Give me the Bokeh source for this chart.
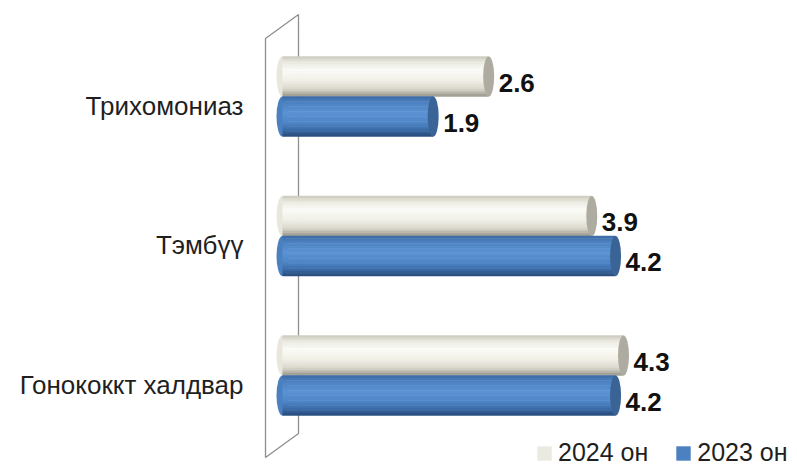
import numpy as np
from bokeh.plotting import figure
from bokeh.models import ColumnDataSource, Range1d, Legend, LegendItem
from bokeh.core.properties import value
from bokeh.embed import file_html
from bokeh.resources import INLINE

# ---- data ----
categories = ["Трихомониаз", "Тэмбүү", "Гонококкт халдвар"]
series_names = ["2024 он", "2023 он"]
values_2024 = [2.6, 3.9, 4.3]
values_2023 = [1.9, 4.2, 4.2]

# ---- layout helpers (canvas pixels) ----
W, H = 797, 465
X0_PX = 282.0      # x pixel of value 0
X_SCALE = 79.3     # pixels per unit
Y0_PX = 96.0       # y pixel of first category centre
Y_STEP = 139.5     # pixels between categories


def dx(px):
    return (px - X0_PX) / X_SCALE


def dy(py):
    return (py - Y0_PX) / Y_STEP


p = figure(width=W, height=H, output_backend="svg", toolbar_location=None, tools="",
           x_range=Range1d(dx(0), dx(W)), y_range=Range1d(dy(H), dy(0)),
           min_border=0, x_axis_location=None, y_axis_location=None,
           outline_line_color=None, background_fill_color="white",
           border_fill_color="white")
p.grid.visible = False

# ---- 3D back wall ----
p.patch(x=[dx(265), dx(298), dx(298), dx(265)],
        y=[dy(38), dy(14), dy(433), dy(457)],
        fill_color="white", line_color="#8f8f8f", line_width=1.3)

BH = 40.0 / Y_STEP
N = 16


def hex2rgb(h):
    h = h.lstrip("#")
    return [int(h[i:i + 2], 16) for i in (0, 2, 4)]


def grad(stops, t):
    for (t0, c0), (t1, c1) in zip(stops[:-1], stops[1:]):
        if t0 <= t <= t1:
            f = (t - t0) / (t1 - t0) if t1 > t0 else 0
            a, b = hex2rgb(c0), hex2rgb(c1)
            return "#%02x%02x%02x" % tuple(int(round(a[i] + (b[i] - a[i]) * f)) for i in range(3))
    return stops[-1][1]


styles = [
    dict(vals=values_2024, off=-BH / 2,
         stops=[(0, "#cac8bc"), (0.15, "#eae9e0"), (0.35, "#fbfbf7"), (0.6, "#f1f0e7"),
                (0.82, "#dad8cc"), (1.0, "#98958a")],
         left="#e9e7dd", cap="#aeaca1"),
    dict(vals=values_2023, off=BH / 2,
         stops=[(0, "#3d69a2"), (0.15, "#4c81c1"), (0.4, "#5a92d3"), (0.65, "#4f87c8"),
                (0.85, "#3a6aa6"), (1.0, "#264a78")],
         left="#4b80c0", cap="#3a6396"),
]

legend_items = []
for name, st in zip(series_names, styles):
    centers = [i + st["off"] for i in range(len(categories))]
    # left rounded ends
    p.ellipse(x=[0] * len(centers), y=centers, width=12, width_units="screen",
              height=BH, fill_color=st["left"], line_color=None)
    ys, rights, cols = [], [], []
    for c, v in zip(centers, st["vals"]):
        for k in range(N):
            ys.append(c - BH / 2 + (k + 0.5) * BH / N)
            rights.append(v)
            cols.append(grad(st["stops"], (k + 0.5) / N))
    src = ColumnDataSource(dict(y=ys, right=rights, color=cols))
    r = p.hbar(y="y", left=0, right="right", height=BH / N * 1.2, fill_color="color",
               line_color=None, source=src)
    # right end caps
    p.ellipse(x=st["vals"], y=centers, width=11, width_units="screen", height=BH,
              fill_color=st["cap"], line_color=None)
    # value labels
    p.text(x=st["vals"], y=centers, text=["%.1f" % v for v in st["vals"]],
           x_offset=10, y_offset=6, text_font=value("Liberation Sans"),
           text_font_style="bold", text_font_size="26px", text_baseline="middle",
           text_align="left", text_color="#111111")
    legend_items.append(LegendItem(label=name, renderers=[r], index=2))

# category labels
p.text(x=[0] * len(categories), y=list(range(len(categories))), text=categories,
       x_offset=-39, y_offset=9, text_align="right", text_baseline="middle",
       text_font=value("Liberation Sans"), text_font_size="26px", text_color="#1f1f1f")

legend = Legend(items=legend_items, orientation="horizontal", location=(535, -2),
                glyph_width=18, glyph_height=18, label_standoff=5, spacing=26,
                padding=0, margin=0, border_line_color=None, background_fill_alpha=0,
                label_text_font="Liberation Sans", label_text_font_size="25px",
                label_text_color="#1f1f1f", label_height=14)
p.add_layout(legend)

open("out.html", "w").write(file_html(p, INLINE))
